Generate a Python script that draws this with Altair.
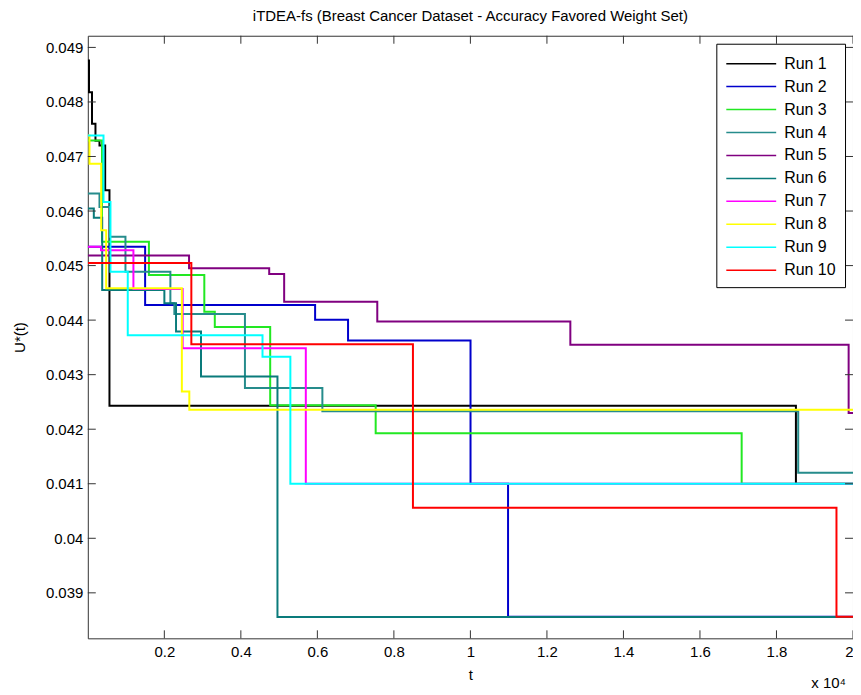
import altair as alt
import pandas as pd

RUNS = ["Run 1", "Run 2", "Run 3", "Run 4", "Run 5",
        "Run 6", "Run 7", "Run 8", "Run 9", "Run 10"]
COLORS = ["#000000", "#0000cc", "#22e822", "#268c8c", "#800080",
          "#0a7b7b", "#ff00ff", "#ffff00", "#00ffff", "#ff0000"]

# step data: value holds from t[i] until t[i+1]
run1_t = [0, 31, 110, 200, 305, 454, 566, 18508, 20000]
run1_v = [0.04876, 0.04818, 0.04760, 0.04729, 0.04720, 0.04638, 0.04243, 0.04100, 0.04100]

run2_t = [0, 1498, 5941, 6802, 10003, 10984, 20000]
run2_v = [0.045344, 0.044278, 0.044005, 0.043625, 0.04100, 0.038561, 0.038561]

run3_t = [0, 370, 1597, 3045, 3319, 4767, 7524, 17090, 20000]
run3_v = [0.047293, 0.045435, 0.044826, 0.044155, 0.043876, 0.042441, 0.041925, 0.04100, 0.04100]

run4_t = [0, 305, 579, 984, 2158, 2262, 4107, 6131, 18568, 20000]
run4_v = [0.04632, 0.046075, 0.045527, 0.044887, 0.044309, 0.044113, 0.042755, 0.042327, 0.041201, 0.041201]

run5_t = [0, 2646, 4741, 5132, 7566, 12612, 19886, 20000]
run5_v = [0.045186, 0.044949, 0.044845, 0.044338, 0.043973, 0.043547, 0.042298, 0.042298]

run6_t = [0, 157, 376, 2001, 2306, 2959, 4957, 20000]
run6_v = [0.046046, 0.045877, 0.044552, 0.044309, 0.04379, 0.042967, 0.038556, 0.038556]

run7_t = [0, 344, 1192, 2479, 5698, 20000]
run7_v = [0.045344, 0.045283, 0.04457, 0.043486, 0.04100, 0.04100]

run8_t = [0, 44, 350, 480, 2458, 2653, 20000]
run8_v = [0.047386, 0.046868, 0.045649, 0.044583, 0.042693, 0.042358, 0.042358]

run9_t = [0, 410, 592, 1044, 4566, 5294, 20000]
run9_v = [0.047386, 0.046166, 0.044887, 0.043724, 0.043327, 0.04100, 0.04100]

run10_t = [0, 2706, 8498, 19568, 20000]
run10_v = [0.045046, 0.043556, 0.040561, 0.038561, 0.038561]

X_TICKS = [2000, 4000, 6000, 8000, 10000, 12000, 14000, 16000, 18000, 20000]
Y_TICKS = [0.039, 0.040, 0.041, 0.042, 0.043, 0.044, 0.045, 0.046, 0.047, 0.048, 0.049]

X_DOMAIN = [0, 20000]
Y_DOMAIN = [0.038166, 0.049214]

TITLE = "iTDEA-fs (Breast Cancer Dataset - Accuracy Favored Weight Set)"
FONT = "Liberation Sans"

W, H = 767, 604
TICK_LEN = 8

series_t = [run1_t, run2_t, run3_t, run4_t, run5_t, run6_t, run7_t, run8_t, run9_t, run10_t]
series_v = [run1_v, run2_v, run3_v, run4_v, run5_v, run6_v, run7_v, run8_v, run9_v, run10_v]


def X(field="t"):
    return alt.X(f"{field}:Q", scale=alt.Scale(domain=X_DOMAIN, nice=False, zero=False),
                 axis=alt.Axis(values=X_TICKS, title="t", grid=False, ticks=False,
                               labelExpr="format(datum.value / 10000, '~g')",
                               labelPadding=6, titlePadding=8, domain=False))


def Y(field="v"):
    return alt.Y(f"{field}:Q", scale=alt.Scale(domain=Y_DOMAIN, nice=False, zero=False),
                 axis=alt.Axis(values=Y_TICKS, title="U*(t)", grid=False, ticks=False,
                               format=".3~f", labelPadding=5, titlePadding=18, domain=False))


color = alt.Color("run:N",
                  scale=alt.Scale(domain=RUNS, range=COLORS),
                  legend=alt.Legend(title=None, orient="top-right", offset=8,
                                    fillColor="white", strokeColor="black", padding=9,
                                    symbolType="M-1,0H4", symbolSize=400, symbolStrokeWidth=1.5,
                                    labelFontSize=16, labelFont=FONT, labelOffset=37,
                                    rowPadding=4, labelColor="black"))

layers = []
for name, ts, vs in zip(RUNS, series_t, series_v):
    df = pd.DataFrame({"run": name, "t": ts, "v": vs})
    layers.append(
        alt.Chart(df).mark_line(interpolate="step-after", strokeWidth=2, clip=True)
        .encode(x=X(), y=Y(), color=color)
    )

ydf = pd.DataFrame({"v": Y_TICKS})
xdf = pd.DataFrame({"t": X_TICKS})
tick_color = "#333333"
ytick_left = alt.Chart(ydf).mark_rule(color=tick_color, strokeWidth=1).encode(
    y=Y(), x=alt.value(0), x2=alt.value(TICK_LEN))
ytick_right = alt.Chart(ydf).mark_rule(color=tick_color, strokeWidth=1).encode(
    y=Y(), x=alt.value(W - TICK_LEN), x2=alt.value(W))
xtick_bottom = alt.Chart(xdf).mark_rule(color=tick_color, strokeWidth=1).encode(
    x=X(), y=alt.value(H - TICK_LEN), y2=alt.value(H))
xtick_top = alt.Chart(xdf).mark_rule(color=tick_color, strokeWidth=1).encode(
    x=X(), y=alt.value(0), y2=alt.value(TICK_LEN))

exp_text = alt.Chart(pd.DataFrame({"s": ["x 10\u2074"]})).mark_text(
    align="right", baseline="alphabetic", fontSize=15, font=FONT, color="black"
).encode(text="s:N", x=alt.value(W - 7), y=alt.value(H + 50))

chart = alt.layer(
    *layers, ytick_left, ytick_right, xtick_bottom, xtick_top, exp_text
).properties(
    width=W, height=H,
    title=alt.TitleParams(TITLE, fontSize=15, fontWeight="normal", font=FONT,
                          anchor="middle", frame="group", offset=11, color="black"),
    padding={"left": 80, "top": 27, "right": 0, "bottom": 52},
    autosize=alt.AutoSizeParams(type="none"),
).configure_view(
    stroke=tick_color, strokeWidth=1
).configure_axis(
    labelFont=FONT, labelFontSize=15, labelColor="black",
    titleFont=FONT, titleFontSize=15, titleFontWeight="normal", titleColor="black"
)

chart.save("out.html", embed_options={"renderer": "svg", "actions": False})
